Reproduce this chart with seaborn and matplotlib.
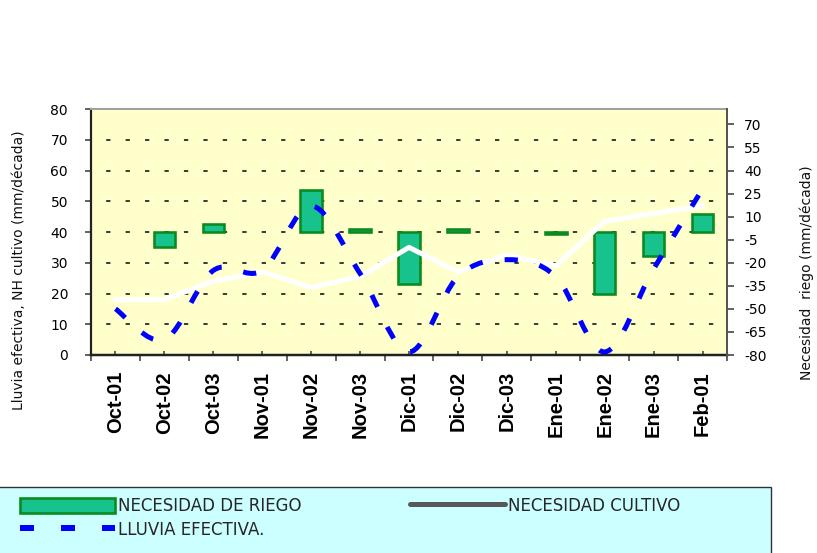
import numpy as np
import pandas as pd
import matplotlib
matplotlib.use("Agg")
import matplotlib.pyplot as plt
from matplotlib.path import Path
from matplotlib.patches import PathPatch, Rectangle, Patch
from matplotlib.lines import Line2D
import seaborn as sns

# ---- data (mm per decade) ----
decadas = ["Oct-01", "Oct-02", "Oct-03", "Nov-01", "Nov-02", "Nov-03",
           "Dic-01", "Dic-02", "Dic-03", "Ene-01", "Ene-02", "Ene-03", "Feb-01"]
necesidad_riego = [np.nan, -10, 5, np.nan, 27, 2, -33.5, 2, np.nan, -1, -40, -15.5, 11.5]
necesidad_cultivo = [18, 18, 24, 27, 22, 25.5, 35, 27, 32.5, 29, 43.5, 46, 48.5]
lluvia_efectiva = [15, 5, 27.5, 27.5, 48.5, 26.5, 1, 25.5, 31, 25.5, 1, 28, 54]

left_ticks = list(range(0, 81, 10))
right_ticks = list(range(-80, 71, 15))
left_grid = list(range(10, 71, 10))

sns.set_theme(style="white")
plt.rcParams["font.family"] = ["DejaVu Sans"]
plt.rcParams["lines.scale_dashes"] = False
plt.rcParams["axes.unicode_minus"] = False

W, H, DPI = 817, 553, 100
PX = 72 / DPI  # points per pixel


def fx(px):
    return px / W


def fy(py):
    return 1 - py / H


fig = plt.figure(figsize=(W / DPI, H / DPI), dpi=DPI)
fig.patch.set_facecolor("white")

ax = fig.add_axes([fx(91), fy(355), (727 - 91) / W, (355 - 109) / H])
axr = ax.twinx()   # irrigation need bars, right scale
axt = ax.twinx()   # lines on top, left scale

df = pd.DataFrame({
    "decada": decadas,
    "riego": necesidad_riego,
    "cultivo": necesidad_cultivo,
    "lluvia": lluvia_efectiva,
})
df["pos"] = np.arange(len(df))

BAR_FILL = "#17C28D"
BAR_EDGE = "#0B8A1F"

ax.set_facecolor("#FFFFCC")
for v in left_grid:
    ax.axhline(v, color="#111111", lw=1.6 * PX,
               linestyle=(3.1, (3.1, 10.9)), zorder=0.5)

sns.barplot(data=df, x="pos", y="riego", ax=axr, color=BAR_FILL,
            edgecolor=BAR_EDGE, linewidth=2.6 * PX, width=0.44,
            saturation=1, errorbar=None)

sns.lineplot(data=df, x="pos", y="cultivo", ax=axt, color="white",
             linewidth=5 * PX, sort=False, estimator=None)

# smoothed rainfall curve (cubic Bezier through each value)
xs = df["pos"].to_numpy(float)
ys = df["lluvia"].to_numpy(float)
n = len(xs)
verts = [(xs[0], ys[0])]
codes = [Path.MOVETO]
for i in range(n - 1):
    i0, i3 = max(i - 1, 0), min(i + 2, n - 1)
    c1 = (xs[i] + (xs[i + 1] - xs[i0]) / 6, ys[i] + (ys[i + 1] - ys[i0]) / 6)
    c2 = (xs[i + 1] - (xs[i3] - xs[i]) / 6, ys[i + 1] - (ys[i3] - ys[i]) / 6)
    verts += [c1, c2, (xs[i + 1], ys[i + 1])]
    codes += [Path.CURVE4] * 3
axt.add_patch(PathPatch(Path(verts, codes), fill=False, edgecolor="#0000FF",
                        lw=5 * PX, linestyle=(0, (9.5, 16)),
                        capstyle="butt", joinstyle="miter", zorder=3))

# ---- scales ----
ax.set_xlim(-0.5, len(decadas) - 0.5)
ax.set_ylim(0, 80)
axt.set_ylim(0, 80)
axr.set_ylim(-80, 80)
axt.set_axis_off()

ax.set_yticks(left_ticks)
ax.tick_params(axis="y", which="major", left=True, right=False,
               direction="out", length=6 * PX, width=1.5 * PX,
               color="#333333", pad=17 * PX, labelsize=10, labelcolor="black")
axr.set_yticks(right_ticks)
axr.tick_params(axis="y", which="major", right=True, left=False,
                direction="out", length=7 * PX, width=1.5 * PX,
                color="#333333", pad=10 * PX, labelsize=10, labelcolor="black")

ax.set_xticks(np.arange(len(decadas)))
ax.set_xticklabels(decadas, rotation=90, fontsize=14.5, fontweight="bold",
                   family=["Liberation Sans", "DejaVu Sans"])
ax.set_xticks(np.arange(-0.5, len(decadas), 1), minor=True)
ax.tick_params(axis="x", which="major", bottom=True, direction="in",
               length=4 * PX, width=1.5 * PX, color="#333333",
               pad=16 * PX, labelcolor="black")
ax.tick_params(axis="x", which="minor", bottom=True, direction="out",
               length=6 * PX, width=1.5 * PX, color="#333333")

for a in (ax, axr):
    a.set_xlabel("")
    a.set_ylabel("")

ax.spines["top"].set_color("#A0A0A0")
ax.spines["top"].set_linewidth(2 * PX)
ax.spines["right"].set_visible(False)
ax.spines["left"].set_color("#222222")
ax.spines["left"].set_linewidth(2.2 * PX)
ax.spines["bottom"].set_color("#222222")
ax.spines["bottom"].set_linewidth(2.5 * PX)
for s in ("top", "left", "bottom"):
    axr.spines[s].set_visible(False)
axr.spines["right"].set_color("#555555")
axr.spines["right"].set_linewidth(2 * PX)

# ---- axis titles ----
fig.text(fx(23), fy(410), "Lluvia efectiva, NH cultivo (mm/década)",
         rotation=90, rotation_mode="anchor", ha="left", va="baseline",
         fontsize=10, color="#111111")
fig.text(fx(811), fy(380), "Necesidad  riego (mm/década)",
         rotation=90, rotation_mode="anchor", ha="left", va="baseline",
         fontsize=10, color="#111111")

# ---- legend ----
fig.add_artist(Rectangle((fx(-2), fy(570)), (773) / W, (570 - 487) / H,
                         transform=fig.transFigure, facecolor="#CCFFFF",
                         edgecolor="#333333", lw=1.4 * PX, zorder=1))

bar_handle = Patch(facecolor=BAR_FILL, edgecolor=BAR_EDGE, linewidth=2.6 * PX)
rain_handle = Line2D([], [], color="#0000FF", lw=6 * PX,
                     linestyle=(0, (14 * PX, 27 * PX)), dash_capstyle="butt")
crop_handle = Line2D([], [], color="#585858", lw=5 * PX)

leg_kw = dict(loc="upper left", frameon=False, fontsize=12,
              handlelength=5.7, handleheight=1.0, handletextpad=0.2,
              labelspacing=0.35, borderpad=0, borderaxespad=0)
leg1 = fig.legend([bar_handle, rain_handle],
                  ["NECESIDAD DE RIEGO", "LLUVIA EFECTIVA."],
                  bbox_to_anchor=(fx(20), fy(497)), **leg_kw)
leg2 = fig.legend([crop_handle], ["NECESIDAD CULTIVO"],
                  bbox_to_anchor=(fx(410), fy(497)), **leg_kw)
for leg in (leg1, leg2):
    leg.set_zorder(5)

fig.savefig("out.png", dpi=DPI)
